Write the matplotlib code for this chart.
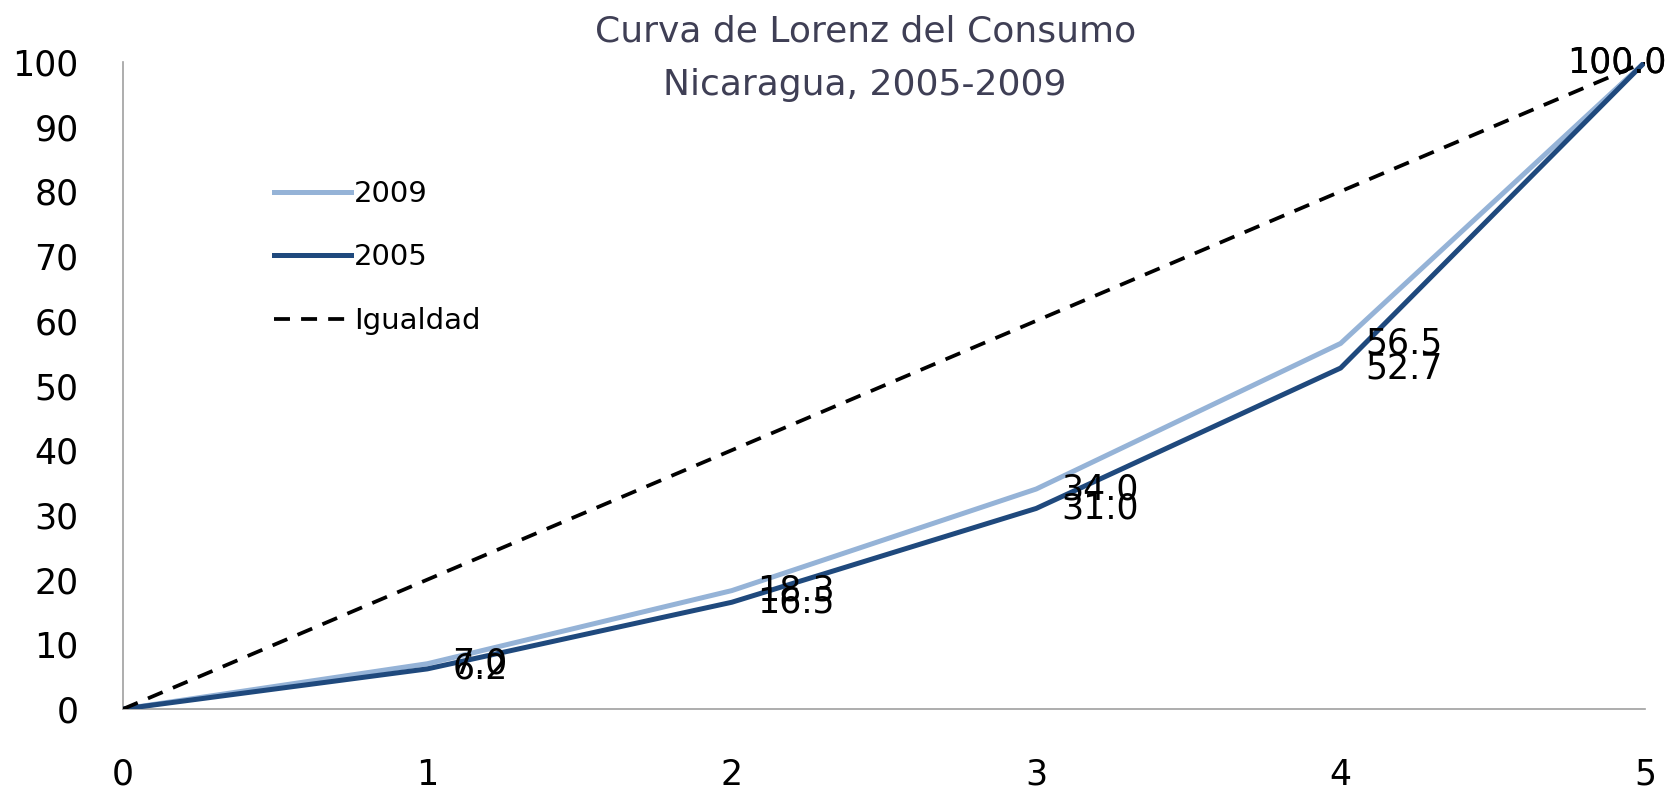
import matplotlib
matplotlib.use("Agg")
import matplotlib.pyplot as plt

# quintiles and cumulative share of consumption (%)
quintil = [0, 1, 2, 3, 4, 5]
consumo_2009 = [0, 7.0, 18.3, 34.0, 56.5, 100.0]
consumo_2005 = [0, 6.2, 16.5, 31.0, 52.7, 100.0]
igualdad = [0, 20, 40, 60, 80, 100]

plt.rcParams["font.family"] = "DejaVu Sans"
plt.rcParams["lines.scale_dashes"] = False

fig = plt.figure(figsize=(16.67, 7.96), dpi=100)
ax = fig.add_axes([0.0738, 0.1093, 0.913, 0.8128])

ax.plot(quintil, consumo_2009, color="#95B3D7", lw=3.6, label="2009",
        solid_joinstyle="round", zorder=2)
ax.plot(quintil, consumo_2005, color="#1F497D", lw=3.6, label="2005",
        solid_joinstyle="round", zorder=3)
ax.plot(quintil, igualdad, color="black", lw=2.7, dashes=(11.5, 8),
        label="Igualdad", zorder=4)

# data labels, right of each point
for serie in (consumo_2009, consumo_2005):
    for x, y in zip(quintil[1:], serie[1:]):
        if x == quintil[-1]:
            ax.annotate(f"{y:.1f}", (x, y), xytext=(22, 0),
                        textcoords="offset pixels", ha="right", va="center",
                        fontsize=25, zorder=5, annotation_clip=False)
        else:
            ax.annotate(f"{y:.1f}", (x, y), xytext=(25, 0),
                        textcoords="offset pixels", ha="left", va="center",
                        fontsize=25, zorder=5)

ax.set_xlim(0, 5)
ax.set_ylim(0, 100)
ax.set_xticks(quintil)
ax.set_yticks(range(0, 101, 10))
ax.tick_params(axis="both", length=0, labelsize=25)
ax.tick_params(axis="x", pad=35)
ax.tick_params(axis="y", pad=32)

for s in ("top", "right"):
    ax.spines[s].set_visible(False)
for s in ("left", "bottom"):
    ax.spines[s].set_color("#A0A0A0")
    ax.spines[s].set_linewidth(1.2)

fig.text(0.519, 0.96, "Curva de Lorenz del Consumo", ha="center", va="center",
         fontsize=26, color="#3F3F55")
fig.text(0.519, 0.893, "Nicaragua, 2005-2009", ha="center", va="center",
         fontsize=26, color="#3F3F55")

ax.legend(loc="upper left", bbox_to_anchor=(0.1644, 0.774),
          bbox_transform=fig.transFigure, frameon=False, fontsize=21,
          borderpad=0, borderaxespad=0, handlelength=2.65,
          handletextpad=0.1, labelspacing=1.22)

fig.savefig("out.png", dpi=100)
